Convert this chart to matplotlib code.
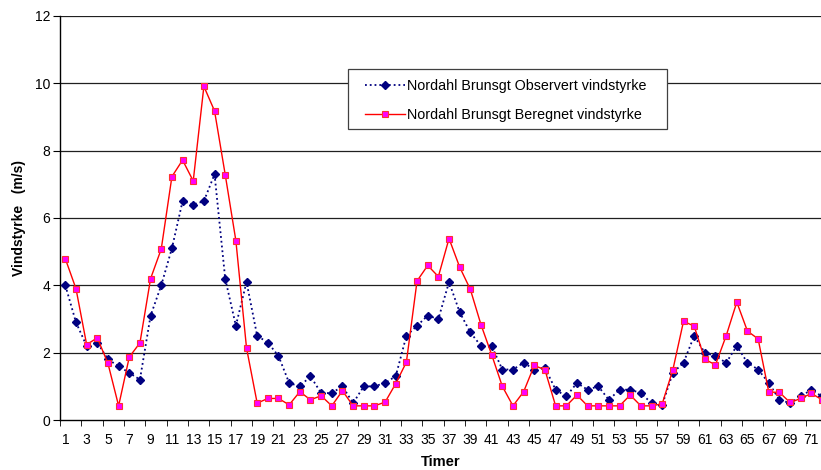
import numpy as np
import matplotlib
matplotlib.use("Agg")
import matplotlib.pyplot as plt
from matplotlib.patches import Rectangle

plt.rcParams['font.family'] = ['Liberation Sans', 'DejaVu Sans']

# hours 1..72
timer = list(range(1, 73))

observert = [4.0, 2.9, 2.2, 2.3, 1.8, 1.6, 1.4, 1.2, 3.1, 4.0,
             5.1, 6.5, 6.4, 6.5, 7.3, 4.2, 2.8, 4.1, 2.5, 2.3,
             1.9, 1.1, 1.0, 1.3, 0.8, 0.8, 1.0, 0.5, 1.0, 1.0,
             1.1, 1.3, 2.5, 2.8, 3.1, 3.0, 4.1, 3.2, 2.6, 2.2,
             2.2, 1.5, 1.5, 1.7, 1.5, 1.55, 0.9, 0.7, 1.1, 0.9,
             1.0, 0.6, 0.9, 0.9, 0.8, 0.5, 0.45, 1.4, 1.7, 2.5,
             2.0, 1.9, 1.7, 2.2, 1.7, 1.5, 1.1, 0.6, 0.5, 0.7,
             0.9, 0.7]

beregnet = [4.79, 3.90, 2.24, 2.44, 1.68, 0.42, 1.87, 2.29, 4.2, 5.08,
            7.23, 7.72, 7.10, 9.91, 9.18, 7.29, 5.33, 2.14, 0.50, 0.64,
            0.64, 0.45, 0.84, 0.60, 0.72, 0.42, 0.87, 0.42, 0.42, 0.42,
            0.53, 1.08, 1.72, 4.13, 4.59, 4.26, 5.39, 4.54, 3.88, 2.83,
            1.94, 1.00, 0.42, 0.84, 1.62, 1.49, 0.42, 0.42, 0.74, 0.42,
            0.42, 0.42, 0.42, 0.74, 0.42, 0.42, 0.48, 1.49, 2.93, 2.79,
            1.80, 1.64, 2.50, 3.50, 2.64, 2.41, 0.83, 0.82, 0.52, 0.64,
            0.79, 0.60]

W, H = 821, 470
fig = plt.figure(figsize=(W / 100, H / 100), dpi=100)
ax = fig.add_axes([60 / W, 50 / H, 761 / W, 404 / H])

ax.plot(timer, observert, linestyle=':', color='#000080', linewidth=1.3,
        marker='D', markersize=4, markerfacecolor='#000080',
        markeredgecolor='#000080', label='Nordahl Brunsgt Observert vindstyrke')
ax.plot(timer, beregnet, linestyle='-', color='#FF0000', linewidth=1.0,
        marker='s', markersize=4.6, markerfacecolor='#FF00FF',
        markeredgecolor='#FF3030', markeredgewidth=0.8,
        label='Nordahl Brunsgt Beregnet vindstyrke')

ax.set_ylim(0, 12)
ax.set_xlim(0.5, 71.9)
ax.set_yticks(range(0, 13, 2))
ax.set_xticks(range(1, 72, 2))
ax.set_xticks(np.arange(0.5, 72, 2), minor=True)
ax.tick_params(axis='x', which='major', length=0, labelsize=10, pad=9)
ax.tick_params(axis='x', which='minor', length=4, direction='out')
ax.tick_params(axis='y', length=5, labelsize=10, direction='out', pad=2)

for v in range(2, 13, 2):
    ax.axhline(v, color='#202020', linewidth=0.9, zorder=0)

for s in ['top', 'right']:
    ax.spines[s].set_visible(False)
ax.spines['left'].set_linewidth(1.0)
ax.spines['bottom'].set_linewidth(1.0)

ax.set_ylabel('Vindstyrke   (m/s)', fontsize=10, fontweight='bold', labelpad=6)
ax.set_xlabel('Timer', fontsize=10.5, fontweight='bold', labelpad=6)

# legend box drawn by hand, entries placed inside it
box = Rectangle((348 / W, 1 - 129 / H), (667 - 348) / W, 60 / H,
                transform=fig.transFigure, facecolor='white',
                edgecolor='#404040', linewidth=0.9, zorder=5)
fig.patches.append(box)
leg = fig.legend(loc='upper left', bbox_to_anchor=(365 / W, 1 - 79 / H),
                 fontsize=10.3, frameon=False, borderpad=0, labelspacing=1.05,
                 handlelength=2.8, handletextpad=0.12, borderaxespad=0)
leg.set_zorder(6)

fig.savefig('out.png', dpi=100)
